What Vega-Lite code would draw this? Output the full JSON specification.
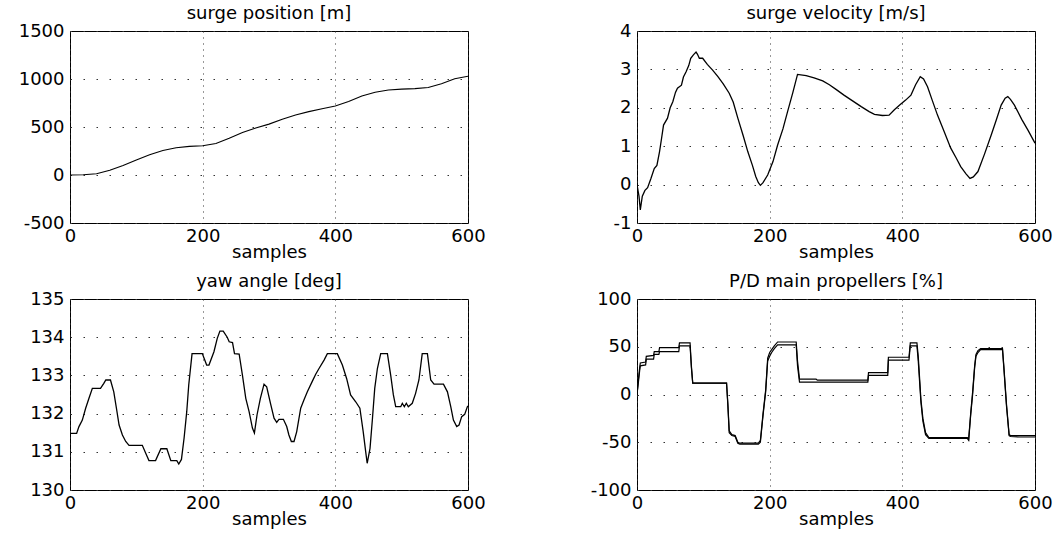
{
  "$schema": "https://vega.github.io/schema/vega-lite/v6.json",
  "padding": {"left": 17, "top": 4, "right": 10, "bottom": 5},
  "background": "white",
  "columns": 2,
  "spacing": {"row": 76, "column": 169},
  "bounds": "flush",
  "datasets": {
    "pos": [
      {"s":0,"v":0},{"s":20,"v":2},{"s":40,"v":13},{"s":60,"v":50},{"s":80,"v":100},{"s":100,"v":157},{"s":120,"v":212},{"s":140,"v":255},{"s":160,"v":284},{"s":180,"v":298},{"s":200,"v":304},{"s":220,"v":328},{"s":240,"v":382},{"s":260,"v":443},{"s":280,"v":490},{"s":300,"v":530},{"s":320,"v":580},{"s":340,"v":625},{"s":360,"v":660},{"s":380,"v":690},{"s":400,"v":718},{"s":420,"v":765},{"s":440,"v":822},{"s":460,"v":862},{"s":480,"v":885},{"s":500,"v":895},{"s":520,"v":900},{"s":540,"v":912},{"s":560,"v":950},{"s":580,"v":1003},{"s":600,"v":1028}
    ],
    "vel": [
      {"s":0,"v":0},{"s":3,"v":-0.3},{"s":5,"v":-0.66},{"s":8,"v":-0.3},{"s":12,"v":-0.15},{"s":16,"v":-0.08},{"s":21,"v":0.16},{"s":26,"v":0.42},{"s":30,"v":0.5},{"s":34,"v":0.86},{"s":37,"v":1.2},{"s":40,"v":1.55},{"s":46,"v":1.73},{"s":50,"v":2.0},{"s":54,"v":2.16},{"s":58,"v":2.4},{"s":61,"v":2.51},{"s":67,"v":2.59},{"s":70,"v":2.8},{"s":74,"v":2.94},{"s":78,"v":3.1},{"s":81,"v":3.29},{"s":85,"v":3.38},{"s":89,"v":3.45},{"s":91,"v":3.4},{"s":94,"v":3.29},{"s":99,"v":3.29},{"s":106,"v":3.13},{"s":114,"v":2.98},{"s":122,"v":2.81},{"s":130,"v":2.62},{"s":139,"v":2.38},{"s":145,"v":2.15},{"s":152,"v":1.73},{"s":160,"v":1.28},{"s":167,"v":0.86},{"s":174,"v":0.5},{"s":179,"v":0.21},{"s":183,"v":0.05},{"s":186,"v":-0.02},{"s":190,"v":0.05},{"s":197,"v":0.25},{"s":205,"v":0.6},{"s":212,"v":1.03},{"s":220,"v":1.45},{"s":227,"v":1.9},{"s":235,"v":2.4},{"s":242,"v":2.87},{"s":255,"v":2.84},{"s":267,"v":2.78},{"s":280,"v":2.7},{"s":290,"v":2.6},{"s":300,"v":2.48},{"s":312,"v":2.33},{"s":325,"v":2.18},{"s":338,"v":2.03},{"s":350,"v":1.9},{"s":358,"v":1.83},{"s":370,"v":1.8},{"s":380,"v":1.81},{"s":388,"v":1.95},{"s":396,"v":2.07},{"s":405,"v":2.2},{"s":413,"v":2.33},{"s":420,"v":2.6},{"s":427,"v":2.81},{"s":432,"v":2.75},{"s":438,"v":2.55},{"s":445,"v":2.2},{"s":453,"v":1.81},{"s":463,"v":1.38},{"s":473,"v":0.95},{"s":481,"v":0.7},{"s":488,"v":0.47},{"s":496,"v":0.28},{"s":502,"v":0.16},{"s":507,"v":0.2},{"s":514,"v":0.34},{"s":524,"v":0.8},{"s":534,"v":1.29},{"s":542,"v":1.7},{"s":549,"v":2.07},{"s":555,"v":2.25},{"s":559,"v":2.29},{"s":563,"v":2.22},{"s":569,"v":2.07},{"s":580,"v":1.7},{"s":590,"v":1.4},{"s":600,"v":1.08}
    ],
    "yaw": [
      {"s":0,"v":131.48},{"s":10,"v":131.48},{"s":13.5,"v":131.66},{"s":18.6,"v":131.83},{"s":23.6,"v":132.14},{"s":28.6,"v":132.4},{"s":33.7,"v":132.66},{"s":46,"v":132.66},{"s":51,"v":132.79},{"s":54,"v":132.88},{"s":61,"v":132.88},{"s":66,"v":132.57},{"s":70,"v":132.14},{"s":74,"v":131.7},{"s":79,"v":131.44},{"s":84,"v":131.27},{"s":89,"v":131.17},{"s":109,"v":131.17},{"s":114,"v":130.97},{"s":119,"v":130.77},{"s":129,"v":130.77},{"s":137,"v":131.08},{"s":146,"v":131.08},{"s":152,"v":130.77},{"s":161,"v":130.77},{"s":164,"v":130.68},{"s":168,"v":130.8},{"s":172,"v":131.36},{"s":176,"v":132.05},{"s":179,"v":132.75},{"s":184,"v":133.57},{"s":199.5,"v":133.57},{"s":206,"v":133.27},{"s":209.5,"v":133.27},{"s":217,"v":133.62},{"s":222,"v":133.97},{"s":226,"v":134.16},{"s":231,"v":134.16},{"s":237,"v":134.0},{"s":240,"v":133.88},{"s":245,"v":133.86},{"s":248,"v":133.57},{"s":255,"v":133.56},{"s":260,"v":133.0},{"s":265,"v":132.4},{"s":270,"v":132.05},{"s":275,"v":131.62},{"s":278,"v":131.49},{"s":282,"v":131.97},{"s":287,"v":132.4},{"s":292.5,"v":132.77},{"s":296.5,"v":132.7},{"s":302.5,"v":132.25},{"s":307.6,"v":131.88},{"s":311.6,"v":131.77},{"s":315,"v":131.85},{"s":321.7,"v":131.85},{"s":326.7,"v":131.66},{"s":330,"v":131.44},{"s":333.7,"v":131.27},{"s":337.7,"v":131.27},{"s":341.8,"v":131.53},{"s":347.8,"v":132.14},{"s":352.8,"v":132.36},{"s":357.8,"v":132.57},{"s":365.4,"v":132.85},{"s":370.4,"v":133.03},{"s":375.4,"v":133.18},{"s":383,"v":133.4},{"s":388,"v":133.57},{"s":403,"v":133.57},{"s":410.6,"v":133.27},{"s":417,"v":132.92},{"s":423,"v":132.49},{"s":430.7,"v":132.31},{"s":437,"v":132.14},{"s":442,"v":131.53},{"s":445.8,"v":131.0},{"s":448,"v":130.7},{"s":452.3,"v":131.09},{"s":456,"v":131.88},{"s":459.4,"v":132.66},{"s":463.4,"v":133.18},{"s":468.4,"v":133.57},{"s":478.5,"v":133.57},{"s":483.5,"v":133.0},{"s":487.5,"v":132.49},{"s":491,"v":132.18},{"s":498.6,"v":132.18},{"s":501,"v":132.27},{"s":504,"v":132.18},{"s":507,"v":132.27},{"s":510,"v":132.18},{"s":516,"v":132.27},{"s":521,"v":132.53},{"s":526,"v":132.88},{"s":531,"v":133.57},{"s":538.8,"v":133.57},{"s":543.8,"v":132.88},{"s":548.8,"v":132.77},{"s":563,"v":132.77},{"s":569,"v":132.57},{"s":574,"v":132.18},{"s":578,"v":131.83},{"s":583,"v":131.66},{"s":586.5,"v":131.7},{"s":590.5,"v":131.92},{"s":595,"v":131.98},{"s":599,"v":132.18},{"s":600,"v":132.2}
    ],
    "pd": [
      {"k":"a","s":0,"v":0},{"k":"a","s":2,"v":15},{"k":"a","s":4,"v":28},{"k":"a","s":5,"v":33},{"k":"a","s":13,"v":34},{"k":"a","s":14,"v":40},{"k":"a","s":25,"v":41},{"k":"a","s":26,"v":45},{"k":"a","s":33,"v":45},{"k":"a","s":34,"v":49},{"k":"a","s":63,"v":49},{"k":"a","s":64,"v":54},{"k":"a","s":80,"v":54},{"k":"a","s":82,"v":30},{"k":"a","s":84,"v":12},{"k":"a","s":135,"v":12},{"k":"a","s":137,"v":-10},{"k":"a","s":139,"v":-38},{"k":"a","s":143,"v":-42},{"k":"a","s":148,"v":-43},{"k":"a","s":152,"v":-50},{"k":"a","s":155,"v":-51},{"k":"a","s":183,"v":-51},{"k":"a","s":186,"v":-48},{"k":"a","s":190,"v":-20},{"k":"a","s":194,"v":5},{"k":"a","s":197,"v":38},{"k":"a","s":200,"v":44},{"k":"a","s":203,"v":47},{"k":"a","s":207,"v":51},{"k":"a","s":212,"v":55},{"k":"a","s":240,"v":55},{"k":"a","s":242,"v":35},{"k":"a","s":245,"v":16},{"k":"a","s":270,"v":16},{"k":"a","s":272,"v":15},{"k":"a","s":348,"v":15},{"k":"a","s":349,"v":23},{"k":"a","s":378,"v":23},{"k":"a","s":379,"v":39},{"k":"a","s":410,"v":39},{"k":"a","s":412,"v":54},{"k":"a","s":422,"v":54},{"k":"a","s":424,"v":40},{"k":"a","s":428,"v":-5},{"k":"a","s":431,"v":-25},{"k":"a","s":435,"v":-40},{"k":"a","s":440,"v":-45},{"k":"a","s":498,"v":-45},{"k":"a","s":500,"v":-47},{"k":"a","s":503,"v":-20},{"k":"a","s":506,"v":3},{"k":"a","s":509,"v":30},{"k":"a","s":511,"v":42},{"k":"a","s":514,"v":46},{"k":"a","s":518,"v":48},{"k":"a","s":551,"v":48},{"k":"a","s":553,"v":30},{"k":"a","s":557,"v":-10},{"k":"a","s":561,"v":-42},{"k":"a","s":563,"v":-43},{"k":"a","s":600,"v":-43},
      {"k":"b","s":0,"v":0},{"k":"b","s":2,"v":12},{"k":"b","s":4,"v":25},{"k":"b","s":5,"v":30},{"k":"b","s":13,"v":31},{"k":"b","s":14,"v":37},{"k":"b","s":25,"v":37},{"k":"b","s":26,"v":42},{"k":"b","s":33,"v":42},{"k":"b","s":34,"v":45},{"k":"b","s":63,"v":45},{"k":"b","s":64,"v":51},{"k":"b","s":80,"v":51},{"k":"b","s":82,"v":28},{"k":"b","s":84,"v":12},{"k":"b","s":135,"v":12},{"k":"b","s":137,"v":-12},{"k":"b","s":139,"v":-40},{"k":"b","s":143,"v":-43},{"k":"b","s":148,"v":-44},{"k":"b","s":152,"v":-51},{"k":"b","s":155,"v":-52},{"k":"b","s":183,"v":-52},{"k":"b","s":186,"v":-50},{"k":"b","s":190,"v":-22},{"k":"b","s":194,"v":3},{"k":"b","s":197,"v":35},{"k":"b","s":200,"v":40},{"k":"b","s":203,"v":44},{"k":"b","s":207,"v":48},{"k":"b","s":212,"v":52},{"k":"b","s":240,"v":52},{"k":"b","s":242,"v":30},{"k":"b","s":245,"v":13},{"k":"b","s":348,"v":13},{"k":"b","s":349,"v":20},{"k":"b","s":378,"v":20},{"k":"b","s":379,"v":36},{"k":"b","s":410,"v":36},{"k":"b","s":412,"v":51},{"k":"b","s":422,"v":51},{"k":"b","s":424,"v":35},{"k":"b","s":428,"v":-8},{"k":"b","s":431,"v":-28},{"k":"b","s":435,"v":-42},{"k":"b","s":440,"v":-46},{"k":"b","s":498,"v":-46},{"k":"b","s":500,"v":-48},{"k":"b","s":503,"v":-22},{"k":"b","s":506,"v":0},{"k":"b","s":509,"v":28},{"k":"b","s":511,"v":40},{"k":"b","s":514,"v":44},{"k":"b","s":518,"v":47},{"k":"b","s":551,"v":47},{"k":"b","s":553,"v":28},{"k":"b","s":557,"v":-12},{"k":"b","s":561,"v":-43},{"k":"b","s":563,"v":-44},{"k":"b","s":576,"v":-44.5},{"k":"b","s":600,"v":-44.5}
    ]
  },
  "concat": [
    {
      "title": "surge position [m]",
      "width": 398, "height": 192,
      "data": {"name": "pos"},
      "mark": {"type": "line", "color": "black", "strokeWidth": 1.1, "clip": true},
      "encoding": {
        "x": {"field": "s", "type": "quantitative", "title": "samples", "scale": {"domain": [0, 600], "nice": false}, "axis": {"values": [0, 200, 400, 600]}},
        "y": {"field": "v", "type": "quantitative", "title": null, "scale": {"domain": [-500, 1500], "nice": false, "zero": false}, "axis": {"values": [-500, 0, 500, 1000, 1500]}}
      }
    },
    {
      "title": "surge velocity [m/s]",
      "width": 398, "height": 192,
      "data": {"name": "vel"},
      "mark": {"type": "line", "color": "black", "strokeWidth": 1.3, "clip": true},
      "encoding": {
        "x": {"field": "s", "type": "quantitative", "title": "samples", "scale": {"domain": [0, 600], "nice": false}, "axis": {"values": [0, 200, 400, 600]}},
        "y": {"field": "v", "type": "quantitative", "title": null, "scale": {"domain": [-1, 4], "nice": false, "zero": false}, "axis": {"values": [-1, 0, 1, 2, 3, 4]}}
      }
    },
    {
      "title": "yaw angle [deg]",
      "width": 398, "height": 191,
      "data": {"name": "yaw"},
      "mark": {"type": "line", "color": "black", "strokeWidth": 1.3, "clip": true},
      "encoding": {
        "x": {"field": "s", "type": "quantitative", "title": "samples", "scale": {"domain": [0, 600], "nice": false}, "axis": {"values": [0, 200, 400, 600]}},
        "y": {"field": "v", "type": "quantitative", "title": null, "scale": {"domain": [130, 135], "nice": false, "zero": false}, "axis": {"values": [130, 131, 132, 133, 134, 135]}}
      }
    },
    {
      "title": "P/D main propellers [%]",
      "width": 398, "height": 191,
      "data": {"name": "pd"},
      "mark": {"type": "line", "color": "black", "strokeWidth": 1.2, "clip": true},
      "encoding": {
        "x": {"field": "s", "type": "quantitative", "title": "samples", "scale": {"domain": [0, 600], "nice": false}, "axis": {"values": [0, 200, 400, 600]}},
        "y": {"field": "v", "type": "quantitative", "title": null, "scale": {"domain": [-100, 100], "nice": false, "zero": false}, "axis": {"values": [-100, -50, 0, 50, 100]}},
        "detail": {"field": "k", "type": "nominal"}
      }
    }
  ],
  "config": {
    "view": {"stroke": "black", "strokeWidth": 1},
    "font": "DejaVu Sans",
    "axis": {
      "labelFont": "DejaVu Sans", "labelFontSize": 18, "labelColor": "black",
      "labelExpr": "'' + datum.value",
      "titleFont": "DejaVu Sans", "titleFontSize": 18, "titleFontWeight": "normal", "titleColor": "black",
      "domain": false, "ticks": false,
      "grid": true, "gridColor": "#333333", "gridOpacity": 1, "gridWidth": 1,
      "labelFlush": false, "labelOverlap": false
    },
    "axisX": {"gridDash": [1, 5], "labelPadding": 4, "titlePadding": -2},
    "axisY": {"gridDash": [1.5, 11.5], "labelPadding": 6},
    "title": {"font": "DejaVu Sans", "fontSize": 18, "fontWeight": "normal", "color": "black", "offset": -1}
  }
}
